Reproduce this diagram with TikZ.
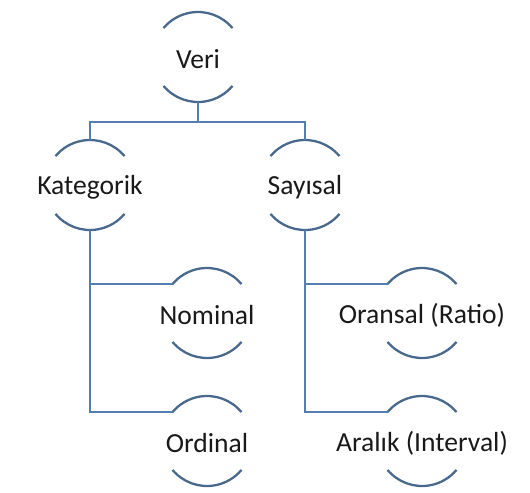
\documentclass[tikz,border=0pt]{standalone}
\usepackage{fontspec}
\setmainfont{Carlito}
\usepackage{tikz}
\usetikzlibrary{shapes.geometric, calc, positioning}
\definecolor{linkblue}{RGB}{82,126,176}
\definecolor{arcblue}{RGB}{72,104,142}

\begin{document}
\begin{tikzpicture}[auto, node distance=2.56cm, thick]

  % Define styles
  \tikzstyle{item} = [circle, minimum size=1.8cm, inner sep=0pt, outer sep=0pt, label={[font=\fontsize{15.7}{18}\selectfont, text=black!90, yshift=-0.05cm]center:#1}]
  \tikzstyle{arcline} = [draw=arcblue, line width=1.3pt]
  \tikzstyle{line} = [draw=linkblue, line width=1.1pt]

  \useasboundingbox (-3.96,1.14) rectangle (6.64,-8.7);

  % Place nodes
  \node [item=Veri] (veri) at (0,0) {};
  \node [item=Kategorik, below of=veri, xshift=-2.16cm] (kat) {};
  \node [item=Sayısal, below of=veri, xshift=2.14cm] (say) {};
  \node [item=Nominal, below of=kat, xshift=2.34cm] (nom) {};
  \node [item=Ordinal, below of=nom] (ord) {};
  \node [item={Oransal (Ratio)}, below of=say, xshift=2.34cm] (ora) {};
  \node [item={Aralık (Interval)}, below of=ora] (ara) {};

  % Draw arcs round the labels
  \foreach \n in {veri, kat, say, nom, ord, ora, ara} {
    \path [arcline] (\n.40) arc[start angle=40, end angle=140, radius=0.9cm];
    \path [arcline] (\n.220) arc[start angle=220, end angle=320, radius=0.9cm];
  }

  % Draw edges
  \path [line] (veri.south) -- ++(0,-0.4) -| (kat.north);
  \path [line] (veri.south) -- ++(0,-0.4) -| (say.north);
  \path [line] (kat.south) |- (nom.140);
  \path [line] (kat.south) |- (ord.140);
  \path [line] (say.south) |- (ora.140);
  \path [line] (say.south) |- (ara.140);

\end{tikzpicture}
\end{document}
